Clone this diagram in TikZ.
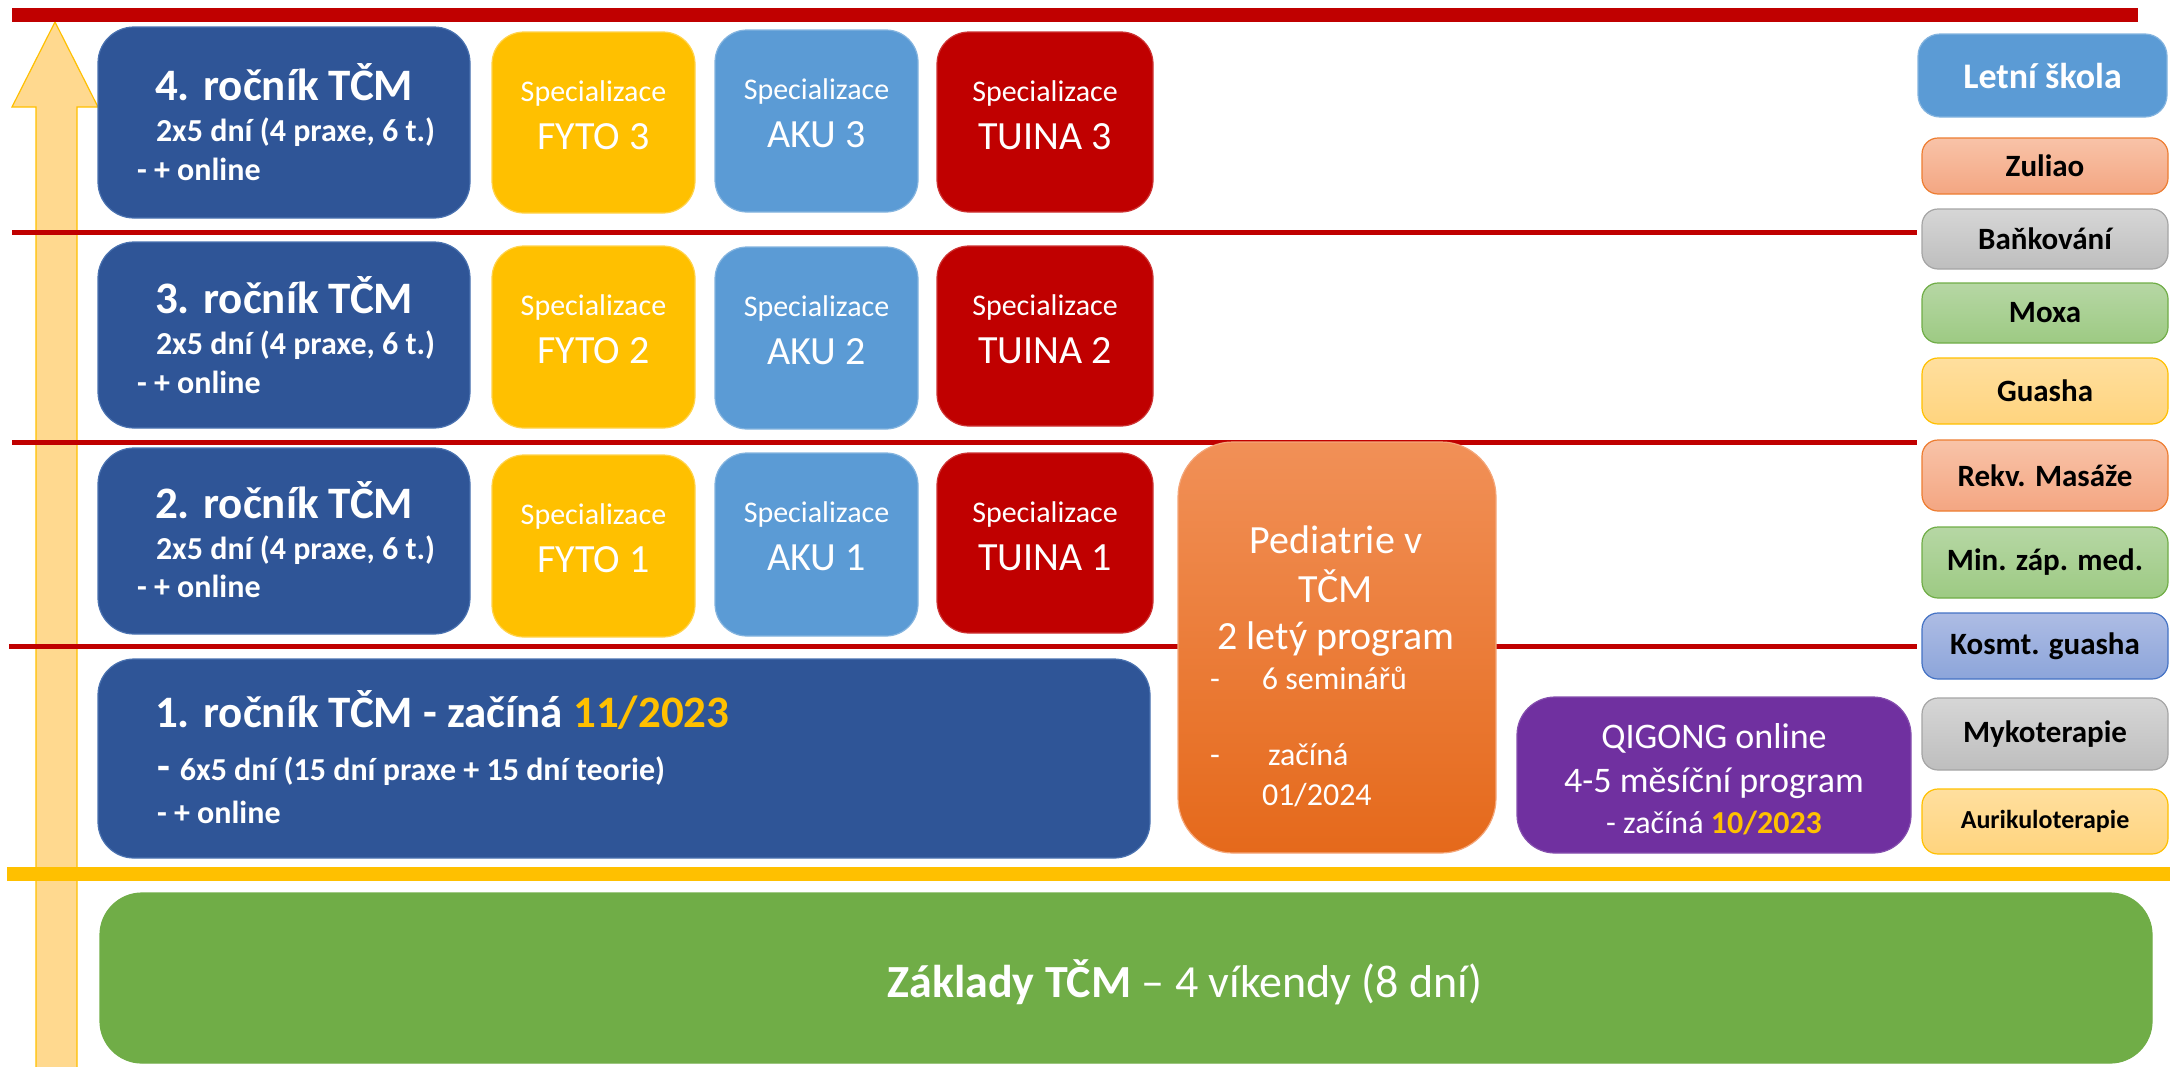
\documentclass[tikz,border=0pt]{standalone}
\usepackage{fontspec}
\setmainfont{Carlito}
\usetikzlibrary{calc}
\definecolor{tcmblue}{HTML}{2F5597}
\definecolor{tcmblueedge}{HTML}{4A72B0}
\definecolor{tcmyellow}{HTML}{FFC000}
\definecolor{tcmlblue}{HTML}{5B9BD5}
\definecolor{tcmred}{HTML}{C00000}
\definecolor{tcmgreen}{HTML}{70AD47}
\definecolor{tcmpurple}{HTML}{7030A0}
\definecolor{arrowfill}{HTML}{FFD98F}
\definecolor{pedtop}{HTML}{F19057}
\definecolor{pedbot}{HTML}{E5691B}
\definecolor{saltop}{HTML}{F8C3A8}
\definecolor{salbot}{HTML}{F4A682}
\definecolor{saledge}{HTML}{ED7D31}
\definecolor{grytop}{HTML}{D6D6D6}
\definecolor{grybot}{HTML}{BEBEBE}
\definecolor{gryedge}{HTML}{A5A5A5}
\definecolor{grntop}{HTML}{B6D7A4}
\definecolor{grnbot}{HTML}{9DCA83}
\definecolor{ylwtop}{HTML}{FFDF9E}
\definecolor{ylwbot}{HTML}{FFD47E}
\definecolor{blutop}{HTML}{ADBCE4}
\definecolor{blubot}{HTML}{8CA5DA}
\definecolor{bluedge}{HTML}{4472C4}
\newcommand\setfs[1]{\fontsize{#1}{#1}\selectfont}
\tikzset{
  panel/.style={anchor=north west, inner sep=0pt, outer sep=0pt, line width=1.2pt},
  yearbox/.style={panel, fill=tcmblue, draw=tcmblueedge, rounded corners=36pt},
  specbox/.style={panel, rounded corners=32pt},
  fytobox/.style={specbox, fill=tcmyellow, draw=tcmyellow!70!white},
  akubox/.style={specbox, fill=tcmlblue, draw=tcmlblue!75!white},
  tuinabox/.style={specbox, fill=tcmred, draw=tcmred!80!white},
  sidebox/.style={panel, rounded corners=16pt, line width=1.2pt},
  salbox/.style={sidebox, top color=saltop, bottom color=salbot, draw=saledge},
  grybox/.style={sidebox, top color=grytop, bottom color=grybot, draw=gryedge},
  grnbox/.style={sidebox, top color=grntop, bottom color=grnbot, draw=tcmgreen},
  ylwbox/.style={sidebox, top color=ylwtop, bottom color=ylwbot, draw=tcmyellow},
  blubox/.style={sidebox, top color=blutop, bottom color=blubot, draw=bluedge},
  txt/.style={inner sep=0pt, outer sep=0pt, text=white},
  titletxt/.style={txt, anchor=base west, font=\bfseries\setfs{45}},
  subtxt/.style={txt, anchor=base west, font=\bfseries\setfs{32}},
  spectxt/.style={txt, anchor=base, font=\setfs{30}},
  speclabel/.style={txt, anchor=base, font=\setfs{40}},
  sidetxt/.style={txt, text=black, font=\bfseries\setfs{31}},
  redline/.style={draw=tcmred, line width=5pt},
}
\begin{document}
\begin{tikzpicture}[x=1pt,y=-1pt]
\useasboundingbox (0,0) rectangle (2170,1066);
% arrow
\fill[arrowfill, draw=tcmyellow, line width=1.2pt] (36,1070) -- (36,107) -- (12,107) -- (55,22) -- (98,107) -- (77,107) -- (77,1070) -- cycle;
% separator lines
\draw[draw=tcmred, line width=14pt] (12,15) -- (2138,15);
\draw[redline] (12,232) -- (1917,232);
\draw[redline] (12,442) -- (1917,442);
\draw[redline] (9,646) -- (1917,646);
\draw[draw=tcmyellow, line width=14pt] (7,874) -- (2170,874);

% year boxes
\node[yearbox, minimum width=372pt, minimum height=191pt] (r4) at (98,27) {};
\node[yearbox, minimum width=372pt, minimum height=186pt] (r3) at (98,242) {};
\node[yearbox, minimum width=372pt, minimum height=186pt] (r2) at (98,448) {};
\node[yearbox, minimum width=1052pt, minimum height=199pt] (r1) at (98,659) {};

\node[titletxt] (r4a) at (155,100) {4. ročník TČM};
\node[subtxt] (r4b) at (156,141) {2x5 dní (4 praxe, 6 t.)};
\node[subtxt] (r4c) at (137,180) {- + online};
\node[titletxt] (r3a) at (155,313) {3. ročník TČM};
\node[subtxt] (r3b) at (156,354) {2x5 dní (4 praxe, 6 t.)};
\node[subtxt] (r3c) at (137,393) {- + online};
\node[titletxt] (r2a) at (155,518) {2. ročník TČM};
\node[subtxt] (r2b) at (156,559) {2x5 dní (4 praxe, 6 t.)};
\node[subtxt] (r2c) at (137,597) {- + online};
\node[titletxt] (r1a) at (155,727) {1. ročník TČM - začíná \textcolor{tcmyellow}{11/2023}};
\node[subtxt] (r1b) at (157,780) {{\setfs{42}-}\hspace{10pt}6x5 dní (15 dní praxe + 15 dní teorie)};
\node[subtxt] (r1c) at (157,823) {- + online};

% specialisation boxes
\node[fytobox, minimum width=203pt, minimum height=181pt] (f3) at (492,32) {};
\node[akubox, minimum width=203pt, minimum height=182pt] (a3) at (715,30) {};
\node[tuinabox, minimum width=216pt, minimum height=180pt] (t3) at (937,32) {};
\node[fytobox, minimum width=203pt, minimum height=182pt] (f2) at (492,246) {};
\node[akubox, minimum width=203pt, minimum height=182pt] (a2) at (715,247) {};
\node[tuinabox, minimum width=216pt, minimum height=180pt] (t2) at (937,246) {};
\node[fytobox, minimum width=203pt, minimum height=182pt] (f1) at (492,455) {};
\node[akubox, minimum width=203pt, minimum height=183pt] (a1) at (715,453) {};
\node[tuinabox, minimum width=216pt, minimum height=180pt] (t1) at (937,453) {};

\foreach \b/\lab in {f3/FYTO 3,a3/AKU 3,t3/TUINA 3,f2/FYTO 2,a2/AKU 2,t2/TUINA 2,f1/FYTO 1,a1/AKU 1,t1/TUINA 1}{
  \node[spectxt] (\b s) at ([yshift=-69pt]\b.north) {Specializace};
  \node[speclabel] (\b l) at ([yshift=-117pt]\b.north) {\lab};
}

% pediatrie
\node[panel, rounded corners=55pt, top color=pedtop, bottom color=pedbot, draw=pedtop!80!white, minimum width=318pt, minimum height=411pt] (ped) at (1178,442) {};
\node[txt, anchor=base, font=\setfs{40}] (peda) at (1336,553) {Pediatrie v};
\node[txt, anchor=base, font=\setfs{40}] (pedb) at (1336,602) {TČM};
\node[txt, anchor=base, font=\setfs{40}] (pedc) at (1336,649) {2 letý program};
\node[txt, anchor=base west, font=\setfs{32}] (pedd) at (1210,689) {\makebox[52pt][l]{-}6 seminářů};
\node[txt, anchor=base west, font=\setfs{32}] (pede) at (1210,765) {\makebox[58pt][l]{-}začíná};
\node[txt, anchor=base west, font=\setfs{32}] (pedf) at (1262,805) {01/2024};

% qigong
\node[panel, rounded corners=38pt, fill=tcmpurple, draw=tcmpurple!85!white, minimum width=394pt, minimum height=156pt] (qig) at (1517,697) {};
\node[txt, anchor=base, font=\setfs{36}] (qiga) at (1714,748) {QIGONG online};
\node[txt, anchor=base, font=\setfs{36}] (qigb) at (1714,792) {4-5 měsíční program};
\node[txt, anchor=base, font=\setfs{32}] (qigc) at (1714,833) {- začíná \textbf{\textcolor{tcmyellow}{10/2023}}};

% right column
\node[panel, rounded corners=22pt, fill=tcmlblue, draw=tcmlblue!75!white, minimum width=249pt, minimum height=83pt] (letni) at (1918,34) {};
\node[txt, font=\bfseries\setfs{36}] (letnit) at (letni.center) {Letní škola};
\node[salbox, minimum width=246pt, minimum height=56pt] (zul) at (1922,138) {};
\node[sidetxt] (zult) at (zul.center) {Zuliao};
\node[grybox, minimum width=246pt, minimum height=60pt] (bank) at (1922,209) {};
\node[sidetxt] (bankt) at (bank.center) {Baňkování};
\node[grnbox, minimum width=246pt, minimum height=60pt] (moxa) at (1922,283) {};
\node[sidetxt] (moxat) at (moxa.center) {Moxa};
\node[ylwbox, minimum width=246pt, minimum height=66pt] (gua) at (1922,358) {};
\node[sidetxt] (guat) at (gua.center) {Guasha};
\node[salbox, minimum width=246pt, minimum height=71pt] (rekv) at (1922,440) {};
\node[sidetxt] (rekvt) at (rekv.center) {Rekv. Masáže};
\node[grnbox, minimum width=246pt, minimum height=71pt] (minz) at (1922,527) {};
\node[sidetxt] (minzt) at (minz.center) {Min. záp. med.};
\node[blubox, minimum width=246pt, minimum height=66pt] (kos) at (1922,613) {};
\node[sidetxt] (kost) at (kos.center) {Kosmt. guasha};
\node[grybox, minimum width=246pt, minimum height=72pt] (myko) at (1922,698) {};
\node[sidetxt] (mykot) at (myko.center) {Mykoterapie};
\node[ylwbox, minimum width=246pt, minimum height=65pt] (auri) at (1922,789) {};
\node[sidetxt, font=\bfseries\setfs{26}] (aurit) at (auri.center) {Aurikuloterapie};

% base
\node[panel, rounded corners=42pt, fill=tcmgreen, draw=tcmgreen, minimum width=2052pt, minimum height=170pt] (base) at (100,893) {};
\node[txt, anchor=base, font=\setfs{46}] (baset) at (1185,997) {\textbf{Základy TČM} – 4 víkendy (8 dní)};
\end{tikzpicture}
\end{document}
